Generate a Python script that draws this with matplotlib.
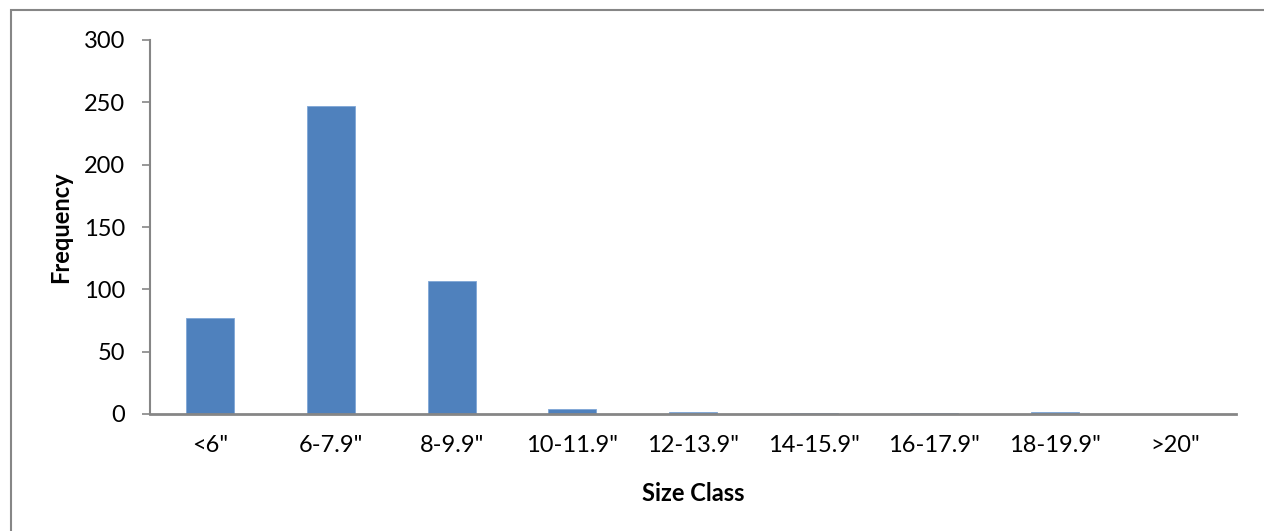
import matplotlib
matplotlib.use("Agg")
import matplotlib.pyplot as plt
from matplotlib.patches import Rectangle
import numpy as np

size_classes = ['<6"', '6-7.9"', '8-9.9"', '10-11.9"', '12-13.9"',
                '14-15.9"', '16-17.9"', '18-19.9"', '>20"']
frequency = [77, 247, 107, 4, 2, 1, 1, 2, 0]

plt.rcParams['font.family'] = ['Lato', 'DejaVu Sans']

fig = plt.figure(figsize=(12.64, 5.31), dpi=100)
ax = fig.add_axes([150 / 1264, 117 / 531, 1086 / 1264, 374 / 531])

x = np.arange(len(size_classes))
ax.bar(x, frequency, width=0.4, color='#4f81bd', edgecolor='#7fa6d6', linewidth=0.6)

ax.set_xlim(-0.5, len(size_classes) - 0.5)
ax.set_ylim(0, 300)
ax.set_yticks(np.arange(0, 301, 50))
ax.set_xticks(x)
ax.set_xticklabels(size_classes)

gray = '#868686'
for side in ['top', 'right']:
    ax.spines[side].set_visible(False)
ax.spines['left'].set_color(gray)
ax.spines['bottom'].set_color(gray)
ax.spines['left'].set_linewidth(1.5)
ax.spines['bottom'].set_linewidth(2.0)
ax.tick_params(axis='y', direction='out', length=6, width=1.2, color=gray,
               labelsize=17, pad=12)
ax.tick_params(axis='x', length=0, labelsize=17, pad=15)

ax.set_ylabel('Frequency', fontsize=17, fontweight='bold', labelpad=8)
ax.set_xlabel('Size Class', fontsize=17, fontweight='bold', labelpad=19)

# outer chart frame
fig.patches.append(Rectangle((11 / 1264, -0.05), 1.1, 521 / 531 + 0.05,
                             transform=fig.transFigure, fill=False,
                             edgecolor=gray, linewidth=1.5))

fig.savefig('out.png', dpi=100, facecolor='white')
